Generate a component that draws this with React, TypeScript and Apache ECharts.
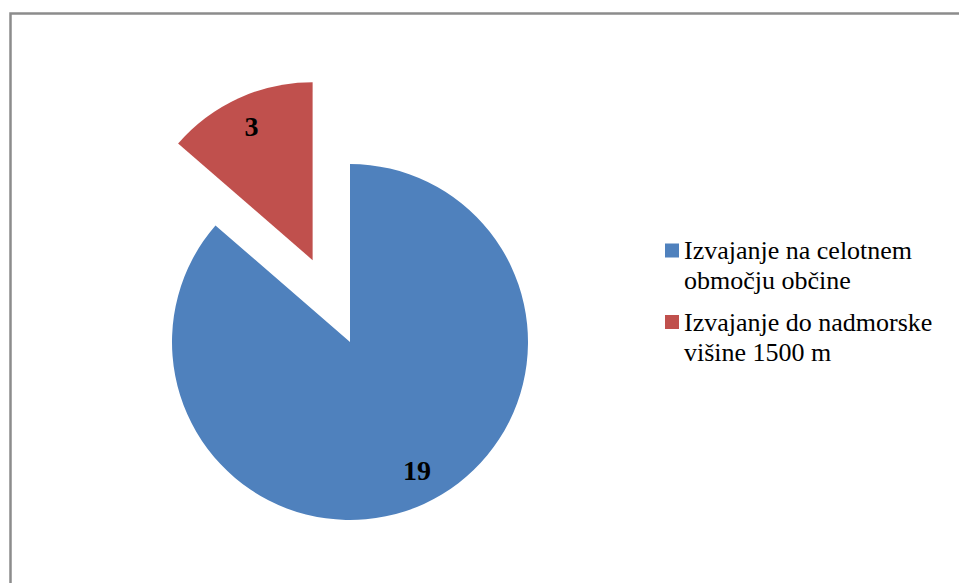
import React, { useEffect, useRef } from "react";
import * as echarts from "echarts";

const categories = [
  "Izvajanje na celotnem\nobmočju občine",
  "Izvajanje do nadmorske\nvišine 1500 m",
];
const values = [19, 3];
const colors = ["#4F81BD", "#C0504D"];
const explodedIndex = 1;

const SERIF = "'Times New Roman', 'Liberation Serif', Tinos, 'DejaVu Serif', serif";

export default function App() {
  const ref = useRef<HTMLDivElement>(null);

  useEffect(() => {
    if (!ref.current) return;
    const chart = echarts.init(ref.current, null, { renderer: "svg" });

    const center = [350, 342];
    const R = 178;
    const offset = 90;

    const mainData = categories.map((name, i) => ({
      name,
      value: values[i],
      selected: i === explodedIndex,
      itemStyle: { color: colors[i], borderWidth: 0 },
    }));
    const labelData = categories.map((name, i) => ({
      name,
      value: values[i],
      selected: i === explodedIndex,
      itemStyle: { color: "rgba(0,0,0,0)", borderWidth: 0 },
      label: i === explodedIndex ? {} : { offset: [6, -5] },
    }));

    // Legend drawn as graphic elements (icon aligned with first text line)
    const legendLeft = 665;
    const legendIconTop = 243.5;
    const legendStep = 71.5;
    const iconSize = 14;
    const lineH = 30;
    const legendItems = categories.flatMap((name, i) => {
      const iconTop = legendIconTop + i * legendStep;
      return [
        {
          type: "rect",
          shape: { x: legendLeft, y: iconTop, width: iconSize, height: iconSize },
          style: { fill: colors[i] },
          silent: true,
        },
        {
          type: "text",
          x: legendLeft + iconSize + 5,
          y: iconTop + iconSize / 2 - lineH / 2,
          style: {
            text: name,
            fontFamily: SERIF,
            fontSize: 26,
            lineHeight: lineH,
            fill: "#000000",
            verticalAlign: "top",
            align: "left",
          },
          silent: true,
        },
      ];
    });

    chart.setOption({
      animation: false,
      backgroundColor: "#ffffff",
      textStyle: { fontFamily: SERIF },
      graphic: [
        {
          type: "rect",
          shape: { x: 10.5, y: 13.5, width: 1200, height: 1200 },
          style: { fill: "none", stroke: "#8c8c8c", lineWidth: 2.5 },
          silent: true,
          z: -10,
        },
        ...legendItems,
      ],
      series: [
        {
          type: "pie",
          center,
          radius: [0, R],
          startAngle: 90,
          clockwise: true,
          selectedMode: "single",
          selectedOffset: offset,
          avoidLabelOverlap: false,
          label: { show: false },
          labelLine: { show: false },
          emphasis: { disabled: true },
          data: mainData,
        },
        {
          type: "pie",
          center,
          radius: [110, R],
          startAngle: 90,
          clockwise: true,
          selectedMode: "single",
          selectedOffset: offset,
          avoidLabelOverlap: false,
          silent: true,
          label: {
            show: true,
            position: "inside",
            formatter: "{c}",
            fontFamily: SERIF,
            fontWeight: "bold",
            fontSize: 28,
            color: "#000000",
          },
          labelLine: { show: false },
          emphasis: { disabled: true },
          data: labelData,
        },
      ],
    });

    return () => chart.dispose();
  }, []);

  return (
    <div
      ref={ref}
      style={{ position: "fixed", left: 0, top: 0, width: 959, height: 583 }}
    />
  );
}
